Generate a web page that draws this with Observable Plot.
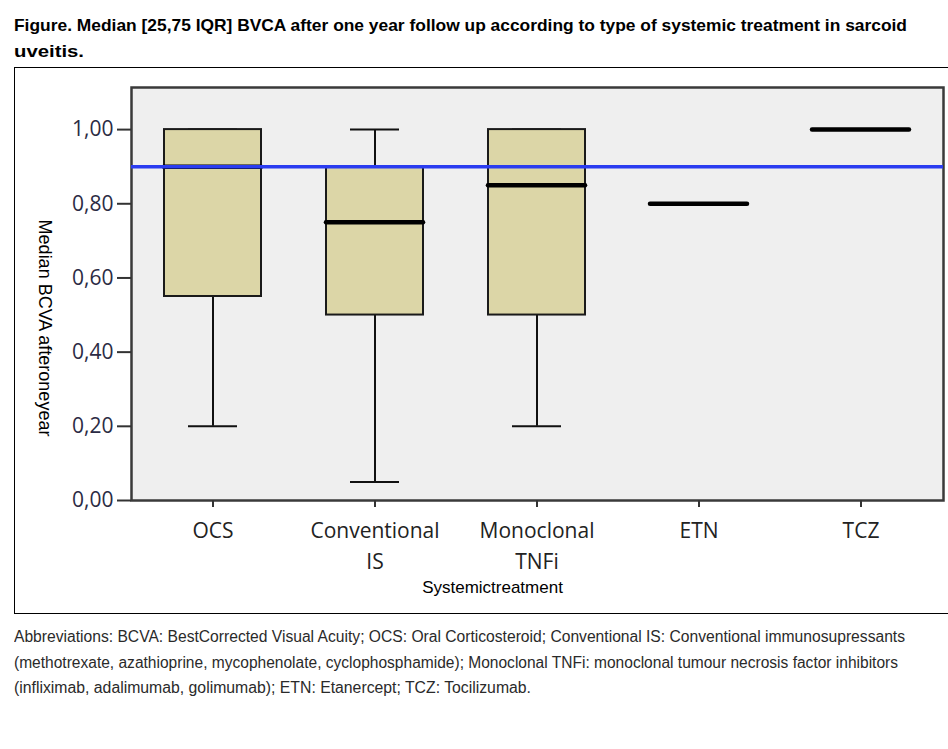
<!DOCTYPE html>
<html>
<head>
<meta charset="utf-8">
<script src="https://cdn.jsdelivr.net/npm/d3@7"></script>
<script src="https://cdn.jsdelivr.net/npm/@observablehq/plot@0.6"></script>
<style>
  html, body { margin: 0; padding: 0; background: #fff; }
  body { width: 948px; height: 749px; position: relative; overflow: hidden; }
  .narrow { font-family: "Liberation Sans Narrow", "Arial Narrow", "Liberation Sans", Arial, sans-serif; }
  #title { position: absolute; left: 14px; top: 12px; font-weight: bold; font-size: 16.5px; line-height: 26px; color: #000; }
  #caption { position: absolute; left: 14px; top: 624px; font-size: 16px; line-height: 25.5px; color: #2a2a2a; }
  .line { display: block; white-space: nowrap; height: 1lh; }
  .line > span { display: inline-block; white-space: nowrap; transform-origin: 0 0; }
  #frame { position: absolute; left: 14px; top: 67px; width: 960px; height: 545px; border: 1.5px solid #000; box-sizing: content-box; }
  #chart { position: absolute; left: 0; top: 68px; }
</style>
</head>
<body>
<div id="title" class="narrow">
  <div class="line"><span data-w="893">Figure. Median [25,75 IQR] BVCA after one year follow up according to type of systemic treatment in sarcoid</span></div>
  <div class="line"><span data-w="70">uveitis.</span></div>
</div>
<div id="frame"></div>
<div id="chart"></div>
<div id="caption" class="narrow">
  <div class="line"><span data-w="891">Abbreviations: BCVA: BestCorrected Visual Acuity; OCS: Oral Corticosteroid; Conventional IS: Conventional immunosupressants</span></div>
  <div class="line"><span data-w="884">(methotrexate, azathioprine, mycophenolate, cyclophosphamide); Monoclonal TNFi: monoclonal tumour necrosis factor inhibitors</span></div>
  <div class="line"><span data-w="517">(infliximab, adalimumab, golimumab); ETN: Etanercept; TCZ: Tocilizumab.</span></div>
</div>
<script>
// ---- data ----
const categories = ["OCS", "Conventional IS", "Monoclonal TNFi", "ETN", "TCZ"];
const tickLabels = ["OCS", "Conventional\nIS", "Monoclonal\nTNFi", "ETN", "TCZ"];
const minValues = [0.20, 0.05, 0.20, 0.80, 1.00];
const q1Values = [0.55, 0.50, 0.50, 0.80, 1.00];
const medianValues = [0.90, 0.75, 0.85, 0.80, 1.00];
const q3Values = [1.00, 0.90, 1.00, 0.80, 1.00];
const maxValues = [1.00, 1.00, 1.00, 0.80, 1.00];
const referenceLine = [0.90];
const yTicks = [0, 0.2, 0.4, 0.6, 0.8, 1.0];
const yLabel = "Median BCVA afteroneyear";
const xLabel = "Systemictreatment";

const rows = categories.map((c, i) => ({
  cat: c, min: minValues[i], q1: q1Values[i], median: medianValues[i], q3: q3Values[i], max: maxValues[i]
}));
const labelOf = Object.fromEntries(categories.map((c, i) => [c, tickLabels[i]]));

const tickFont = "'Open Sans', 'Noto Sans', sans-serif";
const labelFont = "'Liberation Sans', Arial, sans-serif";

const chart = Plot.plot({
  width: 948,
  height: 546,
  marginLeft: 131,
  marginRight: 5,
  marginTop: 19,
  marginBottom: 114,
  style: { background: "transparent", overflow: "visible" },
  x: { domain: categories, paddingInner: 0.4, paddingOuter: 0.2, label: null },
  y: { domain: [0, 1.1135], label: null },
  marks: [
    Plot.frame({ fill: "#efefef", stroke: "#3a3a3a", strokeWidth: 2.5 }),
    Plot.ruleX(rows, { x: "cat", y1: "min", y2: "q1", stroke: "#111", strokeWidth: 2 }),
    Plot.ruleX(rows, { x: "cat", y1: "q3", y2: "max", stroke: "#111", strokeWidth: 2 }),
    Plot.tickY(rows, { x: "cat", y: "min", insetLeft: 24, insetRight: 24, stroke: "#111", strokeWidth: 2 }),
    Plot.tickY(rows, { x: "cat", y: "max", insetLeft: 24, insetRight: 24, stroke: "#111", strokeWidth: 2 }),
    Plot.barY(rows, { x: "cat", y1: "q1", y2: "q3", fill: "#dcd6a7", stroke: "#1a1a1a", strokeWidth: 2 }),
    Plot.tickY(rows, { x: "cat", y: "median", stroke: "#000", strokeWidth: 4.5, strokeLinecap: "round" }),
    Plot.ruleY(referenceLine, { stroke: "#2a3cf0", strokeWidth: 3.5 }),
    Plot.axisY({
      ticks: yTicks, tickSize: 14, tickPadding: 4, strokeWidth: 2, stroke: "#333",
      fill: "#2b2b44", fontSize: 21, fontFamily: tickFont, label: null,
      tickFormat: d => d.toFixed(2).replace(".", ",")
    }),
    Plot.axisX({
      tickSize: 7, tickPadding: 9, strokeWidth: 2, stroke: "#333", fill: "#222",
      fontSize: 21, fontFamily: tickFont, lineHeight: 1.45, label: null,
      tickFormat: d => labelOf[d]
    }),
    Plot.text([yLabel], {
      text: d => d, frameAnchor: "left", rotate: 90, dx: -87, dy: 34,
      fontSize: 18, fontFamily: labelFont, fill: "#000", textAnchor: "middle", lineAnchor: "middle"
    }),
    Plot.text([xLabel], {
      text: d => d, frameAnchor: "bottom", dx: -45, dy: 87,
      fontSize: 17, fontFamily: labelFont, fill: "#000", textAnchor: "middle", lineAnchor: "middle"
    })
  ]
});
document.getElementById("chart").appendChild(chart);

// fit narrow text lines to the measured widths
document.querySelectorAll("[data-w]").forEach(el => {
  const target = +el.dataset.w;
  const w = el.getBoundingClientRect().width;
  if (w > 0) el.style.transform = `scaleX(${target / w})`;
});
</script>
</body>
</html>
